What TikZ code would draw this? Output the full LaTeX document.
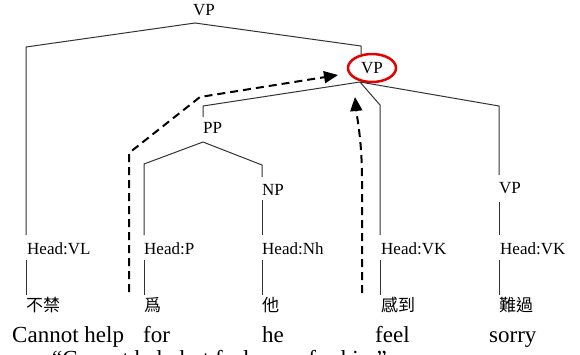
\documentclass[tikz,border=0pt]{standalone}
\usepackage{fontspec}
\setmainfont{Liberation Serif}
\newfontfamily\cjk{Noto Sans CJK TC}
\usetikzlibrary{arrows.meta,shapes.geometric}
\tikzset{
  branch/.style={draw=black!80, line width=1pt},
  cat/.style={anchor=base west, inner sep=0pt, font=\fontsize{17}{17}\selectfont},
  hanzi/.style={anchor=base west, inner sep=0pt, font=\cjk\fontsize{17}{17}\selectfont},
  gloss/.style={anchor=base west, inner sep=0pt, font=\fontsize{23}{23}\selectfont},
  move/.style={line width=2pt, dash pattern=on 8pt off 5pt,
               -{Triangle[length=14pt,width=12pt]}},
  focus/.style={ellipse, draw=red!90!black, line width=2.5pt, inner sep=0pt,
                minimum width=48pt, minimum height=28pt,
                font=\fontsize{17}{17}\selectfont}
}
\begin{document}
\begin{tikzpicture}[x=1pt,y=-1pt]
\useasboundingbox (0,0) rectangle (580,354);
\clip (0,0) rectangle (580,354);

% category labels
\node[cat] (vptop) at (193,15) {VP};
\node[focus] (vpmid) at (372,68) {VP};
\node[cat] (pp) at (203,133) {PP};
\node[cat] (np) at (262,195) {NP};
\node[cat] (vpr) at (499,193) {VP};

% head labels
\node[cat] (hvl) at (27,254) {Head:VL};
\node[cat] (hp)  at (144,254) {Head:P};
\node[cat] (hnh) at (262,254) {Head:Nh};
\node[cat] (hvk) at (381,254) {Head:VK};
\node[cat] (hvk2) at (500,254) {Head:VK};

% words
\node[hanzi] (w1) at (26,311) {不禁};
\node[hanzi] (w2) at (144,311) {爲};
\node[hanzi] (w3) at (262,311) {他};
\node[hanzi] (w4) at (381,311) {感到};
\node[hanzi] (w5) at (499,311) {難過};

% glosses and free translation (the last line runs off the bottom edge)
\node[gloss] (g1) at (12,342) {Cannot help};
\node[gloss] (g2) at (143,342) {for};
\node[gloss] (g3) at (262,342) {he};
\node[gloss] (g4) at (375,342) {feel};
\node[gloss] (g5) at (489,342) {sorry};
\node[gloss] (tr) at (52,366) {“Cannot help but feel sorry for him”};

% branch points
\coordinate (top) at (195,23);
\coordinate (topL) at (26,47);
\coordinate (topR) at (361,46);
\coordinate (topRd) at (361,54);
\coordinate (mid) at (360,82);
\coordinate (midL) at (203,106);
\coordinate (midLd) at (203,117);
\coordinate (midC) at (380,105);
\coordinate (midR) at (499,106);
\coordinate (midRd) at (499,175);
\coordinate (ppa) at (203,142);
\coordinate (ppL) at (144,164);
\coordinate (ppR) at (262,165);
\coordinate (ppRd) at (262,177);
\coordinate (npd) at (262,200);
\coordinate (vprd) at (499,202);

% lower ends of the branches, just above the head labels
\coordinate (hvlt) at (26,235);
\coordinate (hpt)  at (144,235);
\coordinate (hnht) at (262,235);
\coordinate (hvkt) at (380,235);
\coordinate (hvk2t) at (499,235);

% branches
\draw[branch] (hvlt) -- (topL) -- (top) -- (topR) -- (topRd);
\draw[branch] (midLd) -- (midL) -- (mid) -- (midR) -- (midRd);
\draw[branch] (mid) -- (midC) -- (hvkt);
\draw[branch] (hpt) -- (ppL) -- (ppa) -- (ppR) -- (ppRd);
\draw[branch] (npd) -- (hnht);
\draw[branch] (vprd) -- (hvk2t);

% head-to-word stems
\foreach \x in {26,144,262,380,499} {
  \draw[branch] (\x,260) -- (\x,295);
}

% movement arrows
\coordinate (m1a) at (129,292);
\coordinate (m1b) at (129,153);
\coordinate (m1c) at (200,97);
\coordinate (m1d) at (338,75);
\draw[move] (m1a) -- (m1b) -- (m1c) -- (m1d);
\coordinate (m2a) at (362,293);
\coordinate (m2b) at (362,180);
\coordinate (m2c) at (355,97);
\draw[move] (m2a) -- (m2b) .. controls (362,140) and (357,118) .. (m2c);
\end{tikzpicture}
\end{document}
